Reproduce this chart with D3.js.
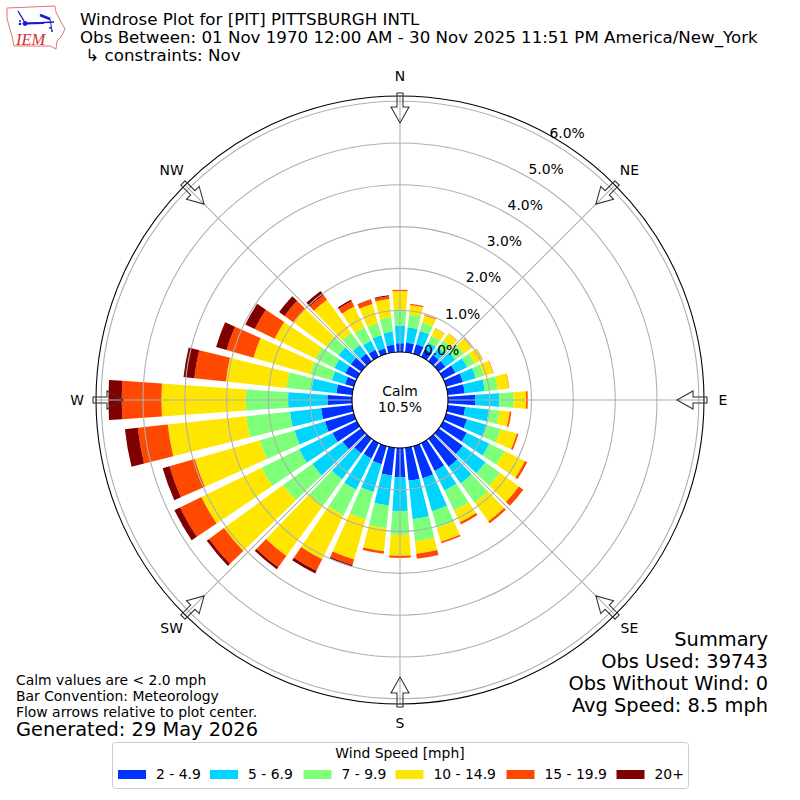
<!DOCTYPE html>
<html>
<head>
<meta charset="utf-8">
<script src="https://cdn.jsdelivr.net/npm/d3@7"></script>
<style>
  html, body { margin: 0; padding: 0; background: #fff; }
  svg { display: block; }
  text { font-family: "DejaVu Sans", sans-serif; fill: #000; }
</style>
</head>
<body>
<script>
// percent of obs per direction bin, clockwise from N every 10 degrees
const directions = d3.range(0, 360, 10);
const speed2to5 = [.21,.23,.24,.20,.19,.20,.33,.42,.41,.65,.42,.52,.63,.71,.83,.74,.80,.79,.70,.67,.45,.41,.43,.55,.65,.72,.75,.59,.38,.22,.31,.31,.22,.19,.14,.18];
const speed5to7 = [.42,.37,.33,.18,.21,.29,.31,.32,.48,.58,.57,.50,.60,.67,.49,.53,.82,.93,.81,.72,.69,.83,.77,.90,.89,.76,.75,.94,.60,.33,.29,.36,.26,.24,.33,.32];
const speed7to10 = [.39,.31,.21,.18,.21,.25,.20,.20,.31,.34,.25,.34,.40,.43,.57,.53,.41,.53,.57,.55,.68,.68,.78,.86,1.00,.86,1.05,1.01,.60,.54,.50,.36,.36,.36,.30,.34];
const speed10to15 = [.44,.23,.18,.20,.21,.23,.21,.23,.27,.30,.25,.40,.55,.56,.55,.31,.35,.30,.50,.55,1.00,1.17,1.49,1.75,1.60,1.62,1.89,2.02,1.46,1.41,1.09,.98,.98,.55,.47,.44];
const speed15to20 = [.03,.03,.02,.01,.01,.01,.01,.01,.01,.04,.04,.04,.06,.13,.06,.06,.04,.12,.05,.06,.14,.31,.33,.44,.57,.63,.72,.95,.76,.67,.53,.26,.14,.14,.11,.07];
const speed20up = [0,0,0,0,0,0,0,0,0,0,0,0,0,0,0,0,0,0,0,0,.04,.07,.06,.07,.15,.17,.31,.32,.26,.26,.25,.16,.12,.04,.01,.02];
const seriesValues = [speed2to5, speed5to7, speed7to10, speed10to15, speed15to20, speed20up];
const speedLabels = ['2 - 4.9', '5 - 6.9', '7 - 9.9', '10 - 14.9', '15 - 19.9', '20+'];
const speedColors = ['#0033ff', '#00d5ff', '#7dff7a', '#ffe600', '#ff4800', '#800000'];
const rTicks = [0, 1, 2, 3, 4, 5, 6];
const compass = ['N', 'NE', 'E', 'SE', 'S', 'SW', 'W', 'NW'];

const width = 800, height = 800, cx = 400, cy = 400;
const holeR = 48, pxPerPct = 41.8, outerR = 304;
const toRad = d => d * Math.PI / 180;

const svg = d3.select('body').append('svg')
  .attr('width', width).attr('height', height);

const r = d3.scaleLinear().domain([0, 1]).range([holeR, holeR + pxPerPct]);
const polar = (deg, rad) => [cx + rad * Math.sin(toRad(deg)), cy - rad * Math.cos(toRad(deg))];

const plot = svg.append('g').attr('transform', `translate(${cx},${cy})`);

// bars, stacked outward
const arc = d3.arc();
const barHalf = 3.95;
directions.forEach((dir, i) => {
  let sum = 0;
  seriesValues.forEach((vals, s) => {
    const v = vals[i];
    if (v > 0) {
      plot.append('path')
        .attr('fill', speedColors[s])
        .attr('d', arc({
          innerRadius: r(sum), outerRadius: r(sum + v),
          startAngle: toRad(dir - barHalf), endAngle: toRad(dir + barHalf)
        }));
    }
    sum += v;
  });
});

// grid goes on top of the bars
plot.selectAll('circle.ring')
  .data(rTicks.slice(1))
  .join('circle')
  .attr('class', 'ring')
  .attr('r', d => r(d))
  .attr('fill', 'none')
  .attr('stroke', '#b0b0b0')
  .attr('stroke-width', 1.1);

plot.selectAll('line.spoke')
  .data(d3.range(0, 360, 45))
  .join('line')
  .attr('class', 'spoke')
  .attr('x1', d => holeR * Math.sin(toRad(d)))
  .attr('y1', d => -holeR * Math.cos(toRad(d)))
  .attr('x2', d => outerR * Math.sin(toRad(d)))
  .attr('y2', d => -outerR * Math.cos(toRad(d)))
  .attr('stroke', '#b0b0b0')
  .attr('stroke-width', 1.1);

plot.append('circle').attr('r', holeR).attr('fill', '#fff').attr('stroke', '#000').attr('stroke-width', 1.1);
plot.append('circle').attr('r', outerR).attr('fill', 'none').attr('stroke', '#000').attr('stroke-width', 1.1);

// flow arrows
const arrow = d3.line()([[-3, -307], [3, -307], [3, -293], [9, -293], [0, -277], [-9, -293], [-3, -293]]) + 'Z';
plot.selectAll('path.arrow')
  .data(d3.range(0, 360, 45))
  .join('path')
  .attr('class', 'arrow')
  .attr('d', arrow)
  .attr('transform', d => `rotate(${d})`)
  .attr('fill', 'none')
  .attr('stroke', '#333')
  .attr('stroke-width', 1.1);

// radial labels
svg.selectAll('text.rlabel')
  .data(rTicks)
  .join('text')
  .attr('class', 'rlabel')
  .attr('x', d => polar(30, r(d))[0])
  .attr('y', d => polar(30, r(d))[1] - 3.6)
  .attr('font-size', 13.9)
  .text(d => d.toFixed(1) + '%');

// compass labels
svg.selectAll('text.compass')
  .data(compass)
  .join('text')
  .attr('class', 'compass')
  .attr('x', (d, i) => polar(i * 45, 323)[0] + (i === 1 || i === 3 ? 1 : 0))
  .attr('y', (d, i) => polar(i * 45, 323)[1] + (i === 1 || i === 7 || i === 0 ? 3.5 : 5))
  .attr('text-anchor', 'middle')
  .attr('font-size', 13.9)
  .text(d => d);

svg.append('text').attr('x', 400).attr('y', 396).attr('text-anchor', 'middle').attr('font-size', 13.9).text('Calm');
svg.append('text').attr('x', 400).attr('y', 412).attr('text-anchor', 'middle').attr('font-size', 13.9).text('10.5%');

// title
const titleLines = ['Windrose Plot for [PIT] PITTSBURGH INTL',
  'Obs Between: 01 Nov 1970 12:00 AM - 30 Nov 2025 11:51 PM America/New_York',
  ' \u21b3 constraints: Nov'];
svg.selectAll('text.title')
  .data(titleLines)
  .join('text')
  .attr('class', 'title')
  .attr('x', 80)
  .attr('y', (d, i) => 25 + i * 18)
  .attr('xml:space', 'preserve')
  .attr('font-size', 16.67)
  .text(d => d);

// summary
const summaryLines = ['Summary', 'Obs Used: 39743', 'Obs Without Wind: 0', 'Avg Speed: 8.5 mph'];
svg.selectAll('text.summary')
  .data(summaryLines)
  .join('text')
  .attr('class', 'summary')
  .attr('x', 768)
  .attr('y', (d, i) => 646 + i * 22)
  .attr('text-anchor', 'end')
  .attr('font-size', 19.4)
  .text(d => d);

// notes
const noteLines = ['Calm values are < 2.0 mph', 'Bar Convention: Meteorology', 'Flow arrows relative to plot center.'];
svg.selectAll('text.note')
  .data(noteLines)
  .join('text')
  .attr('class', 'note')
  .attr('x', 16)
  .attr('y', (d, i) => 685 + i * 16)
  .attr('font-size', 13.9)
  .text(d => d);
svg.append('text').attr('x', 16).attr('y', 736).attr('font-size', 19.4).text('Generated: 29 May 2026');

// legend
svg.append('rect').attr('x', 112.5).attr('y', 742.5).attr('width', 576).attr('height', 46).attr('rx', 3)
  .attr('fill', '#fff').attr('stroke', '#ccc');
svg.append('text').attr('x', 400).attr('y', 758).attr('text-anchor', 'middle').attr('font-size', 13.9).text('Wind Speed [mph]');
const legendX = [118, 210, 303.5, 395.5, 506.5, 616.5];
speedLabels.forEach((lab, i) => {
  svg.append('rect').attr('x', legendX[i]).attr('y', 770).attr('width', 28).attr('height', 9).attr('fill', speedColors[i]);
  svg.append('text').attr('x', legendX[i] + 38).attr('y', 779).attr('font-size', 13.9).text(lab);
});

// IEM logo
const logo = svg.append('g');
logo.append('path')
  .attr('d', 'M7,8 L55,6 L56,12 L60,20 L65,29 L61,37 L57,41 L56,49 L50,46 L14,46 L12,36 L9,26 L7,18 Z')
  .attr('fill', '#fff').attr('stroke', '#e57373').attr('stroke-width', 1);
logo.append('path').attr('d', 'M25,23.5 L54,22 M18,11 L21,16 L24,21').attr('stroke', '#1a1ad0').attr('stroke-width', 1.4).attr('fill', 'none');
logo.append('path').attr('d', 'M25,23.5 L44,23').attr('stroke', '#1a1ad0').attr('stroke-width', 2).attr('fill', 'none');
logo.append('path').attr('d', 'M40,15 L50,19').attr('stroke', '#1a1ad0').attr('stroke-width', 2.6).attr('fill', 'none');
logo.append('path').attr('d', 'M50,19 L52,31').attr('stroke', '#1a1ad0').attr('stroke-width', 1).attr('fill', 'none');
logo.selectAll('circle')
  .data([[25, 23.5, 2.4], [20, 24, 1.3], [20, 21, 1], [50, 28, 1], [52, 31, 1]])
  .join('circle')
  .attr('cx', d => d[0]).attr('cy', d => d[1]).attr('r', d => d[2]).attr('fill', '#1a1ad0');
logo.append('text').attr('x', 16).attr('y', 45).attr('font-size', 16.5)
  .style('font-family', '"Liberation Serif", serif').style('font-style', 'italic').style('fill', '#d32f2f').text('IEM');
</script>
</body>
</html>
